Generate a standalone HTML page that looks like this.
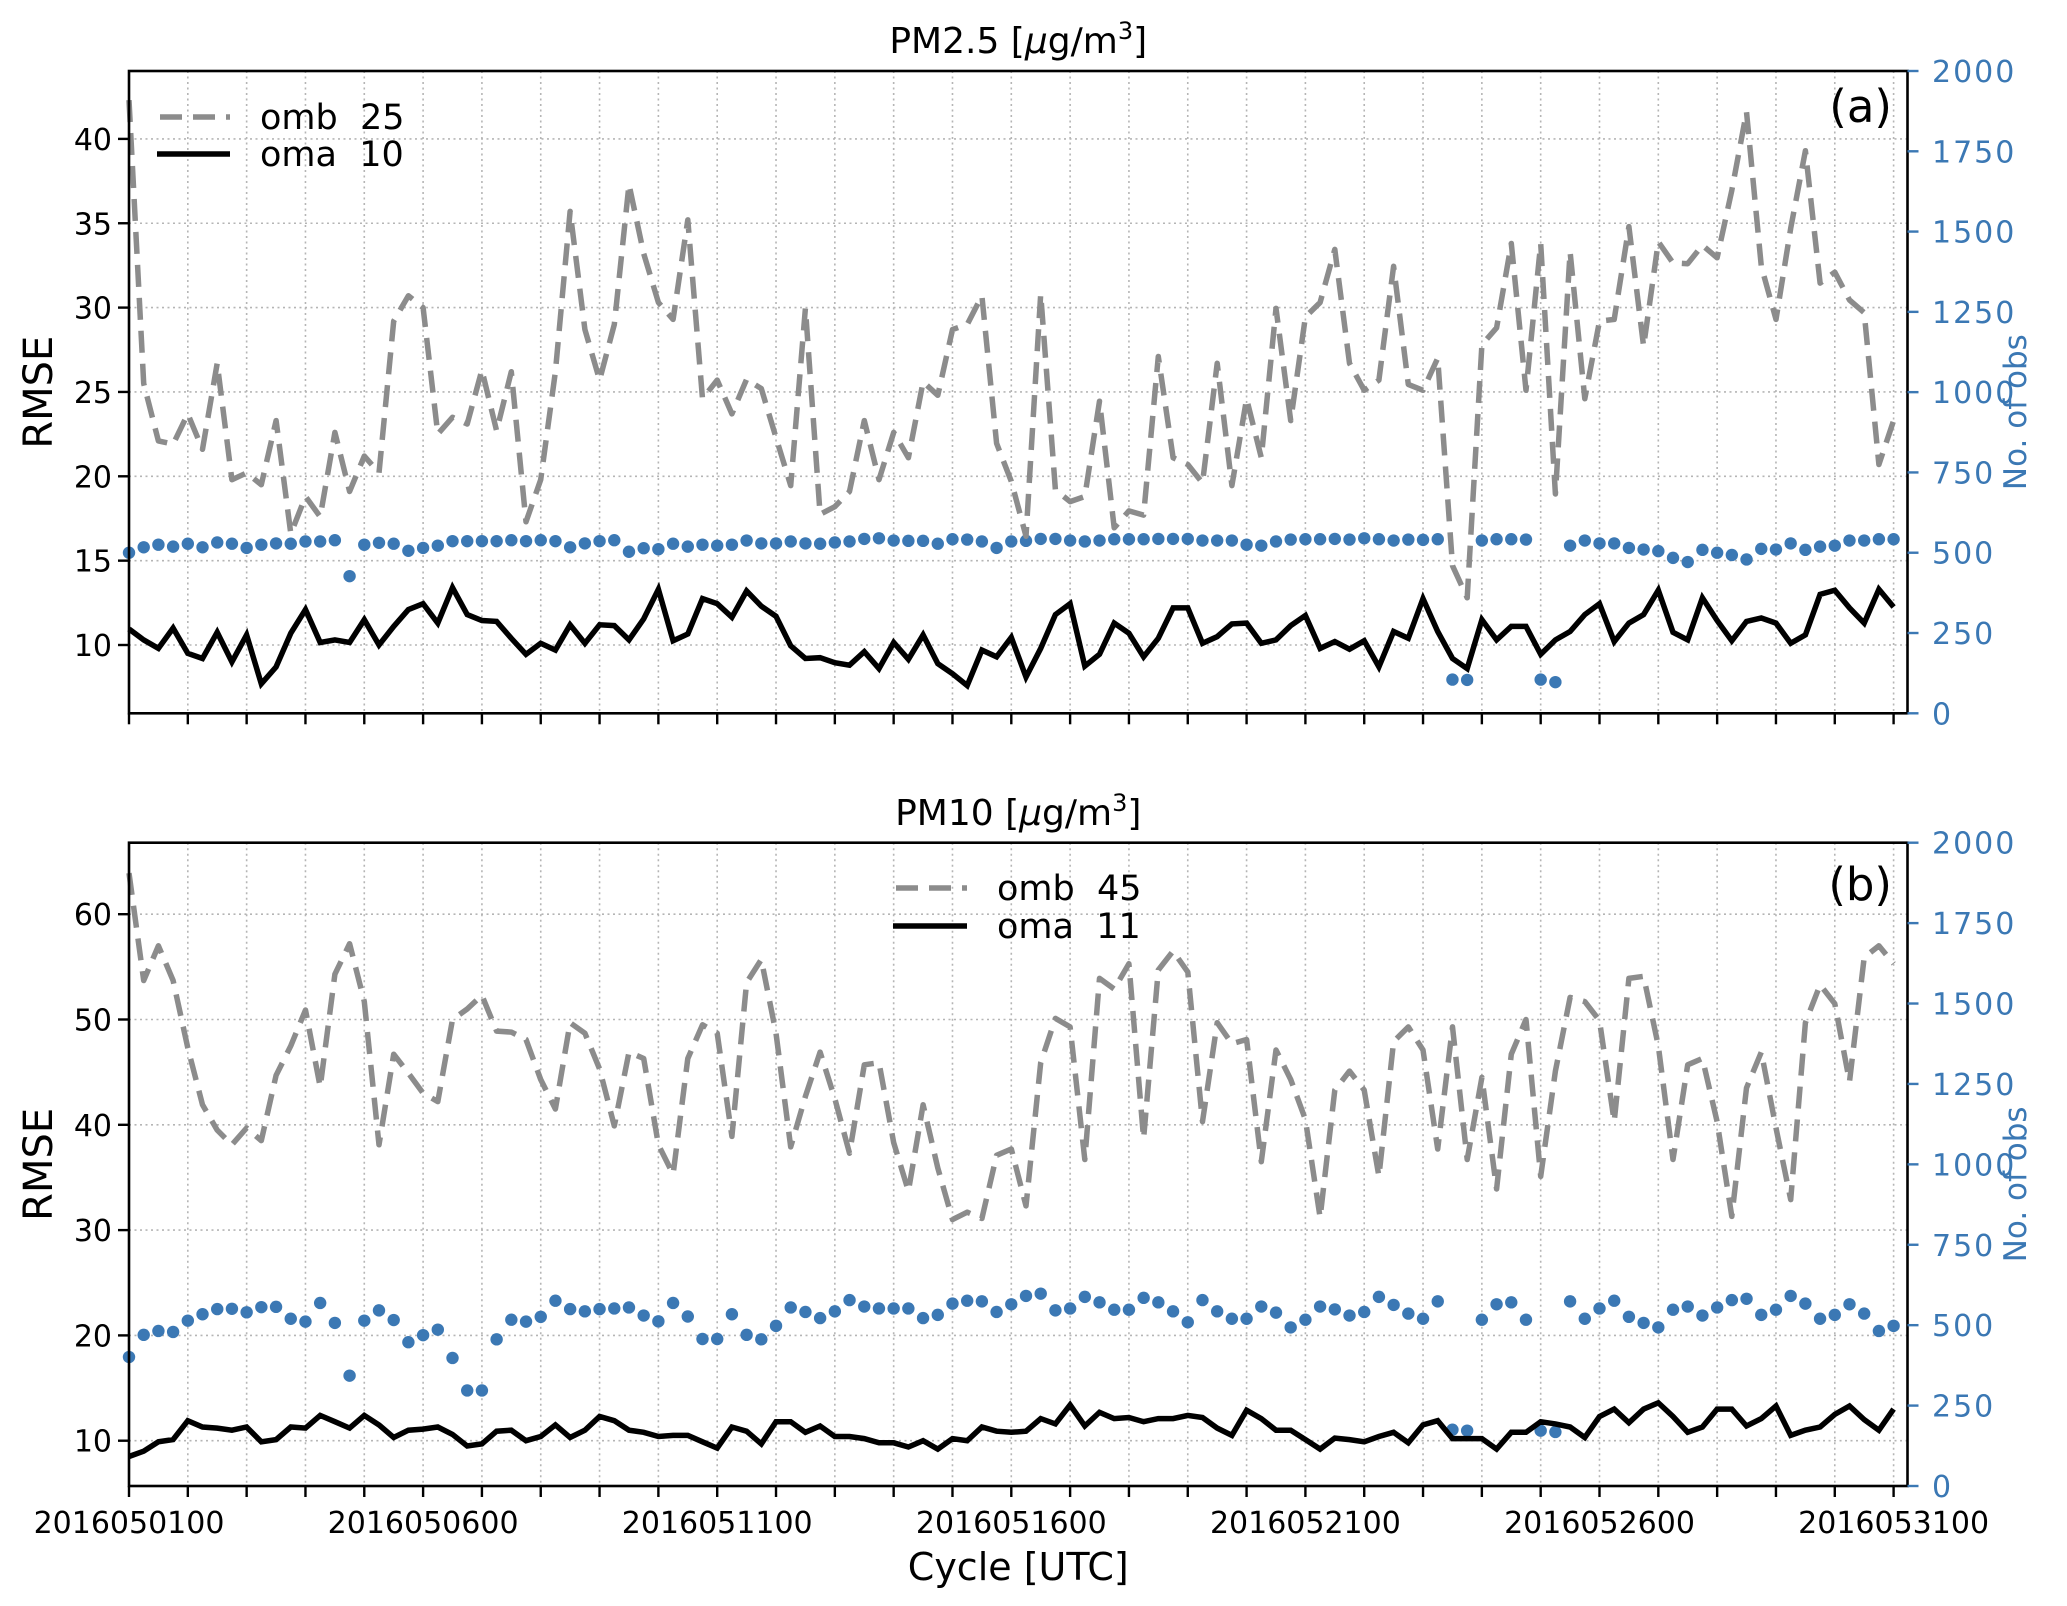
<!DOCTYPE html>
<html><head><meta charset="utf-8"><title>PM RMSE chart</title>
<style>
html,body{margin:0;padding:0;background:#fff;}
svg{display:block;font-family:"DejaVu Sans","Liberation Sans",sans-serif;}
</style></head>
<body>
<svg id="chart" width="2067" height="1606" viewBox="0 0 2067 1606" xmlns="http://www.w3.org/2000/svg"></svg>
<script>
// ---- data (6-hourly cycles, 2016050100 .. 2016053100) ----
const xTickLabels = ["2016050100","2016050600","2016051100","2016051600","2016052100","2016052600","2016053100"];
const leftTicksA = [10,15,20,25,30,35,40];
const leftTicksB = [10,20,30,40,50,60];
const rightTicks = [0,250,500,750,1000,1250,1500,1750,2000];

const pm25Omb = [42.3,25.5,22.1,21.9,23.7,21.6,26.7,19.8,20.2,19.5,23.3,16.6,18.8,17.6,22.6,19.1,21.2,20.2,29.2,30.7,30.0,22.5,23.5,23.1,26.3,22.7,26.2,17.3,19.8,26.2,35.7,28.7,25.7,29.0,37.3,33.2,30.3,29.3,35.2,24.6,25.7,23.7,
25.75,25.2,22.3,19.45,29.95,17.75,18.2,19.1,23.3,19.8,22.6,21.1,25.6,24.8,28.7,29.0,30.7,21.95,19.7,16.45,30.8,19.2,18.5,18.8,24.45,16.95,17.95,17.7,27.1,21.1,20.7,19.6,26.7,19.45,24.6,21.1,29.95,23.3,29.45,30.3,33.45,
26.7,25.1,25.7,32.45,25.45,25.1,27.0,14.7,12.8,27.8,28.8,33.8,25.1,33.8,18.95,33.3,24.6,29.2,29.3,34.8,27.7,33.9,32.65,32.6,33.7,32.95,36.95,41.6,32.45,29.3,34.7,39.3,31.45,32.1,30.45,29.7,20.7,23.3];
const pm25Oma = [10.95,10.3,9.8,11.0,9.5,9.2,10.75,9.0,10.6,7.7,8.7,10.7,12.1,10.15,10.3,10.15,11.5,10.0,11.1,12.1,12.45,11.3,13.4,11.8,11.45,11.4,10.4,9.45,10.1,9.7,11.2,10.1,11.2,11.15,10.3,11.55,13.3,10.25,10.65,12.75,12.45,11.65,
13.2,12.3,11.7,9.95,9.2,9.25,8.95,8.8,9.6,8.6,10.15,9.15,10.6,8.9,8.3,7.6,9.7,9.3,10.45,8.1,9.8,11.8,12.45,8.75,9.45,11.3,10.7,9.3,10.4,12.2,12.2,10.1,10.5,11.25,11.3,10.1,10.3,11.15,11.75,9.8,10.2,
9.75,10.25,8.7,10.8,10.4,12.75,10.8,9.2,8.6,11.5,10.3,11.1,11.1,9.45,10.3,10.8,11.8,12.45,10.2,11.3,11.8,13.25,10.75,10.3,12.8,11.45,10.25,11.4,11.6,11.3,10.1,10.6,13.0,13.25,12.2,11.3,13.3,12.25];
const pm25Obs = [500,517,525,519,528,517,532,528,515,525,529,528,535,535,539,427,525,531,528,506,515,522,536,536,536,536,539,536,539,536,517,529,536,539,503,514,511,528,519,525,522,525,
538,529,529,535,529,528,532,535,543,545,538,537,537,528,542,541,535,515,535,537,543,543,538,535,538,542,542,542,543,543,543,538,538,538,525,522,535,541,542,542,543,
541,545,542,538,541,540,542,105,104,538,542,542,541,105,97,522,538,529,529,515,510,505,484,471,509,500,493,479,512,510,529,509,519,522,538,538,542,542];

const pm10Omb = [63.9,53.7,57.0,53.7,47.3,41.9,39.5,38.1,39.7,38.5,44.7,47.5,50.9,43.6,54.3,57.2,51.7,38.1,46.7,44.9,43.0,42.2,50.0,51.0,52.3,48.9,48.8,48.1,44.3,41.5,49.7,48.7,45.3,39.9,46.9,46.3,38.1,35.3,46.3,49.5,48.7,38.9,
53.5,55.7,48.7,37.9,42.7,46.9,42.5,37.3,45.7,45.9,38.3,33.7,41.9,35.9,31.0,31.7,31.1,37.1,37.7,32.3,45.9,50.1,49.3,36.7,53.9,52.9,55.3,38.7,54.7,56.5,54.5,40.3,49.7,47.7,48.1,36.5,47.1,44.3,40.5,31.2,43.3,
45.1,43.3,35.1,47.9,49.3,47.1,37.7,49.3,36.7,44.5,33.9,46.7,50.0,35.1,45.1,52.1,51.7,49.9,40.3,53.9,54.1,47.5,36.7,45.7,46.3,40.3,31.3,43.5,46.9,39.7,32.9,49.7,53.3,51.5,44.1,55.9,57.0,55.3];
const pm10Oma = [8.5,9.0,9.9,10.1,11.9,11.3,11.2,11.0,11.3,9.9,10.1,11.3,11.2,12.4,11.8,11.2,12.4,11.5,10.3,11.0,11.1,11.3,10.6,9.5,9.7,10.9,11.0,10.0,10.4,11.5,10.3,11.0,12.3,11.9,11.0,10.8,10.4,10.5,10.5,9.9,9.3,11.3,
10.9,9.7,11.8,11.8,10.8,11.4,10.4,10.4,10.2,9.8,9.8,9.4,10.0,9.2,10.2,10.0,11.3,10.9,10.8,10.9,12.1,11.6,13.4,11.4,12.7,12.1,12.2,11.8,12.1,12.1,12.4,12.2,11.2,10.5,12.9,12.1,11.0,11.0,10.1,9.2,10.25,
10.1,9.9,10.4,10.8,9.8,11.5,11.9,10.2,10.2,10.2,9.2,10.8,10.8,11.8,11.6,11.3,10.3,12.3,13.0,11.7,13.0,13.6,12.3,10.8,11.3,13.0,13.0,11.4,12.1,13.3,10.5,11.0,11.3,12.5,13.3,12.0,11.0,13.0];
const pm10Obs = [401,470,482,479,514,534,550,551,540,556,557,520,511,569,507,343,514,546,516,447,469,486,398,297,297,456,517,511,526,576,550,543,550,552,555,530,512,569,527,457,457,534,
470,456,498,555,541,522,543,578,558,552,552,552,522,532,567,576,574,541,565,591,598,546,552,588,571,548,548,585,571,543,509,578,543,520,520,558,539,493,517,558,549,
530,541,588,563,536,520,574,175,172,517,565,571,517,172,168,574,520,552,576,526,507,493,548,558,530,555,578,582,532,548,591,567,520,532,565,536,482,498];

// ---- layout ----
const NS = "http://www.w3.org/2000/svg";
const svg = document.getElementById("chart");
const X0 = 129, X1 = 1907.5, DAYPX = 58.82;
const BLUE = "#3b78b4";
function xIdx(i){ return X0 + i * DAYPX / 4; }
function xDay(d){ return X0 + d * DAYPX; }
function el(tag, attrs, parent){
  const e = document.createElementNS(NS, tag);
  for (const k in attrs) e.setAttribute(k, attrs[k]);
  (parent || svg).appendChild(e);
  return e;
}
function txt(s, attrs, parent){ const t = el("text", attrs, parent); t.textContent = s; return t; }

const panels = [
  {key:"pm25", top:71, bot:713.3, lmin:10, lref:645, lpx:16.87, lticks:leftTicksA, omb:pm25Omb, oma:pm25Oma, obs:pm25Obs,
   title:"PM2.5 [", titleY:53, tag:"(a)", tagY:122, showX:false,
   legend:{lx0:160, lx1:230, ly0:117, ly1:154, tx:260, ombLbl:"omb  25", omaLbl:"oma  10"}},
  {key:"pm10", top:842.7, bot:1486, lmin:10, lref:1440.7, lpx:10.53, lticks:leftTicksB, omb:pm10Omb, oma:pm10Oma, obs:pm10Obs,
   title:"PM10 [", titleY:825, tag:"(b)", tagY:900, showX:true,
   legend:{lx0:896, lx1:967, ly0:888, ly1:926, tx:997, ombLbl:"omb  45", omaLbl:"oma  11"}}
];

panels.forEach(function(p){
  const g = el("g", {});
  
  
  const yL = v => p.lref - (v - p.lmin) * p.lpx;
  const yR = o => p.bot - o * (p.bot - p.top) / 2000;

  const grid = el("g", {stroke:"#b5b5b5", "stroke-width":1.6, "stroke-dasharray":"2,3.5"}, g);
  
  
  for (let d = 0; d <= 30; d++) el("line", {x1:xDay(d), x2:xDay(d), y1:p.top, y2:p.bot}, grid);
  p.lticks.forEach(v => el("line", {x1:X0, x2:X1, y1:yL(v), y2:yL(v)}, grid));

  const dots = el("g", {fill:BLUE}, g);
  
  
  p.obs.forEach(function(o, i){
    const c = el("circle", {cx:xIdx(i), cy:yR(o), r:6.2}, dots);
    
    
  });

  const ombPts = p.omb.map((v,i) => xIdx(i).toFixed(1) + "," + yL(v).toFixed(1)).join(" ");
  const omb = el("polyline", {points:ombPts, fill:"none", stroke:"#8c8c8c", "stroke-width":5.5, "stroke-dasharray":"22,11", "stroke-linejoin":"round"}, g);
  
  

  const omaPts = p.oma.map((v,i) => xIdx(i).toFixed(1) + "," + yL(v).toFixed(1)).join(" ");
  const oma = el("polyline", {points:omaPts, fill:"none", stroke:"#000", "stroke-width":5.5, "stroke-linejoin":"miter"}, g);
  
  

  const frame = el("rect", {x:X0, y:p.top, width:X1-X0, height:p.bot-p.top, fill:"none", stroke:"#000", "stroke-width":2.6}, g);
  
  

  const xt = el("g", {stroke:"#000", "stroke-width":2.4}, g);
  
  
  for (let d = 0; d <= 30; d++) el("line", {x1:xDay(d), x2:xDay(d), y1:p.bot, y2:p.bot+11}, xt);
  if (p.showX){
    xTickLabels.forEach(function(s, k){
      const t = txt(s, {x:xDay(k*5), y:1533, "font-size":30, "text-anchor":"middle", fill:"#000"}, g);
      
      
    });
  }

  p.lticks.forEach(function(v){
    el("line", {x1:X0-11, x2:X0, y1:yL(v), y2:yL(v), stroke:"#000", "stroke-width":2.4}, g);
    const t = txt(String(v), {x:112, y:yL(v)+11, "font-size":30, "text-anchor":"end", fill:"#000"}, g);
    
    
  });
  rightTicks.forEach(function(o){
    el("line", {x1:X1, x2:X1+11, y1:yR(o), y2:yR(o), stroke:BLUE, "stroke-width":2.4}, g);
    const t = txt(String(o), {x:1932, y:yR(o)+11, "font-size":30, "letter-spacing":2, "text-anchor":"start", fill:BLUE}, g);
    
    
  });

  const mid = (p.top + p.bot) / 2;
  const yl = txt("RMSE", {x:0, y:0, "font-size":40, "text-anchor":"middle", fill:"#000", transform:"translate(52," + mid + ") rotate(-90)"}, g);
  
  
  const yr = txt("No. of obs", {x:0, y:0, "font-size":31, "text-anchor":"middle", fill:BLUE, transform:"translate(2026," + (mid + 20) + ") rotate(-90)"}, g);
  
  

  const tt = el("text", {x:(X0+X1)/2, y:p.titleY, "font-size":36, "text-anchor":"middle", fill:"#000"}, g);
  
  
  tt.appendChild(document.createTextNode(p.title));
  const mu = el("tspan", {"font-style":"italic"}, tt); mu.textContent = "\u03BC";
  tt.appendChild(document.createTextNode("g/m"));
  const sup = el("tspan", {"font-size":24, dy:-14}, tt); sup.textContent = "3";
  const cl = el("tspan", {dy:14}, tt); cl.textContent = "]";

  const tg = txt(p.tag, {x:1892, y:p.tagY, "font-size":45, "text-anchor":"end", fill:"#000"}, g);
  
  

  const L = p.legend;
  const lg = el("g", {}, g);
  
  
  el("line", {x1:L.lx0, x2:L.lx1, y1:L.ly0, y2:L.ly0, stroke:"#8c8c8c", "stroke-width":5.5, "stroke-dasharray":"22,11"}, lg);
  el("line", {x1:L.lx0-3, x2:L.lx1, y1:L.ly1, y2:L.ly1, stroke:"#000", "stroke-width":5.5}, lg);
  const e1 = txt(L.ombLbl, {x:L.tx, y:L.ly0+12, "font-size":35, fill:"#000"}, lg);
  
  
  e1.setAttribute('style', 'white-space:pre');
  const e2 = txt(L.omaLbl, {x:L.tx, y:L.ly1+12, "font-size":35, fill:"#000"}, lg);
  
  
  e2.setAttribute('style', 'white-space:pre');
});

const xl = txt("Cycle [UTC]", {x:(X0+X1)/2, y:1580, "font-size":38, "text-anchor":"middle", fill:"#000"});


</script>
</body></html>
